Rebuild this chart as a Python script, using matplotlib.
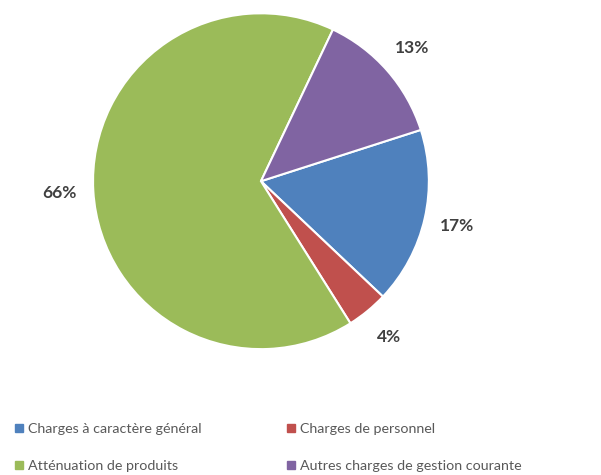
import matplotlib.pyplot as plt
from matplotlib.lines import Line2D

# values (percent)
labels = ['Charges à caractère général', 'Charges de personnel',
          'Atténuation de produits', 'Autres charges de gestion courante']
values = [17, 4, 66, 13]
colors = ['#4F81BD', '#C0504D', '#9BBB59', '#8064A2']

plt.rcParams['font.family'] = ['Lato', 'DejaVu Sans']

fig = plt.figure(figsize=(6.01, 4.75), dpi=100)
ax = fig.add_axes([0.1547, 0.265, 0.559, 0.707])

wedges, texts, autotexts = ax.pie(
    values, colors=colors, startangle=17.8, counterclock=False,
    autopct='%1.0f%%', pctdistance=1.2,
    wedgeprops=dict(edgecolor='white', linewidth=1.5),
    textprops=dict(color='#404040', fontsize=12.5, fontweight='bold'))
ax.set_xlim(-1, 1)
ax.set_ylim(-1, 1)
ax.set_aspect('equal')

# legend in 2 columns: row1 blue/red, row2 green/purple
order = [0, 2, 1, 3]
handles = [Line2D([], [], marker='s', linestyle='', markersize=6,
                  color=colors[i]) for i in order]
fig.legend(handles, [labels[i] for i in order], ncol=2,
           loc='upper left', bbox_to_anchor=(0.015, 0.122),
           frameon=False, fontsize=10.3, labelcolor='#595959',
           handlelength=0.6, handletextpad=0.35, columnspacing=5.9,
           labelspacing=1.75, borderaxespad=0)

fig.savefig('out.png', dpi=100)
